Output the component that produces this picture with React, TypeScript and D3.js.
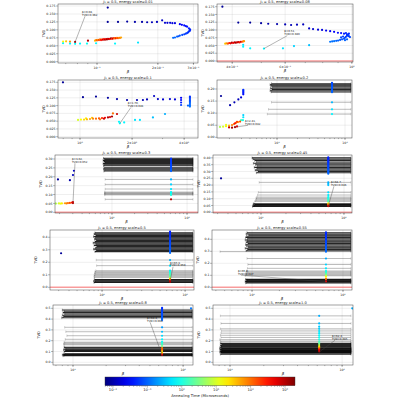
import React from "react";
import * as d3 from "d3";

type Pt = [number, number, number]; // beta, TVD, log10(annealing time in microseconds)
type Bar = [number, number, number]; // TVD, beta low, beta high
type Ann = [number, number, number, number]; // point beta, point TVD, text beta, text TVD

const ENERGY_SCALES = ["0.01", "0.08", "0.1", "0.2", "0.3", "0.45", "0.5", "0.55", "0.8", "1.0"];
const LOG_T_DOMAIN: [number, number] = [-2.23, 3.29];
const CBAR_TICKS = [-2, -1, 0, 1, 2, 3];
const CBAR_LABELS = ["10⁻²", "10⁻¹", "10⁰", "10¹", "10²", "10³"];

const Y_TICKS_A = [0, 0.025, 0.05, 0.075, 0.1, 0.125, 0.15, 0.175];
const Y_TICKS_B = [0, 0.05, 0.1, 0.15, 0.2];
const Y_TICKS_C = [0, 0.05, 0.1, 0.15, 0.2, 0.25, 0.3];
const Y_TICKS_D = [0, 0.05, 0.1, 0.15, 0.2, 0.25, 0.3, 0.35, 0.4];
const Y_TICKS_E = [0, 0.1, 0.2, 0.3, 0.4];
const Y_TICKS_F = [0, 0.1, 0.2, 0.3, 0.4, 0.5];

const X_TICKS_1 = [0.1, 0.2, 0.3];
const X_LABELS_1 = ["10⁻¹", "2×10⁻¹", "3×10⁻¹"];
const X_TICKS_2 = [0.4, 0.6, 1];
const X_LABELS_2 = ["4×10⁻¹", "6×10⁻¹", "10⁰"];
const X_TICKS_3 = [1, 2, 4];
const X_LABELS_3 = ["10⁰", "2×10⁰", "4×10⁰"];
const X_TICKS_D = [10, 100];
const X_LABELS_D = ["10¹", "10²"];

const X_DOMAINS: [number, number][] = [
  [0.0641, 0.316], [0.356, 1.009], [0.746, 4.81], [1.31, 126.7], [1.74, 140],
  [2.64, 125], [2.36, 128], [3.63, 125.6], [6.58, 123], [7.05, 125],
];
const Y_DOMAINS: [number, number][] = [
  [-0.0041, 0.1813], [-0.0032, 0.1837], [-0.0042, 0.1824], [-0.0029, 0.2373], [-0.0039, 0.3225],
  [-0.005, 0.421], [-0.0216, 0.458], [-0.0225, 0.4775], [-0.025, 0.5306], [-0.025, 0.5306],
];

// ---------- Panel 1 (energy scale 0.01)
const P1_POINTS: Pt[] = [
  [0.113, 0.170, -2.1],
  [0.113, 0.125, -2.1], [0.127, 0.125, -2.1], [0.141, 0.126, -2.05], [0.154, 0.125, -2.0], [0.167, 0.125, -2.0],
  [0.177, 0.124, -1.95], [0.187, 0.124, -1.9], [0.198, 0.125, -1.9], [0.210, 0.130, -1.85],
  [0.217, 0.122, -1.8], [0.223, 0.122, -1.78], [0.230, 0.122, -1.75], [0.236, 0.121, -1.72], [0.243, 0.121, -1.7],
  [0.257, 0.118, -1.6], [0.263, 0.116, -1.55], [0.270, 0.114, -1.5], [0.275, 0.112, -1.48], [0.279, 0.110, -1.45],
  [0.285, 0.105, -1.4], [0.288, 0.102, -1.38], [0.289, 0.100, -1.35], [0.288, 0.097, -1.33], [0.285, 0.095, -1.3],
  [0.282, 0.092, -1.28], [0.279, 0.090, -1.25], [0.275, 0.088, -1.22], [0.270, 0.086, -1.2], [0.264, 0.084, -1.15],
  [0.257, 0.082, -1.1], [0.253, 0.080, -1.08], [0.249, 0.079, -1.05], [0.243, 0.076, -1.0], [0.238, 0.075, -0.95],
  [0.0977, 0.066, 1.6], [0.0990, 0.068, 1.9], [0.1000, 0.067, 2.1], [0.1012, 0.069, 1.8], [0.1023, 0.068, 2.3],
  [0.1035, 0.070, 2.0], [0.1047, 0.068, 2.6], [0.1060, 0.070, 2.4], [0.1071, 0.069, 2.9], [0.1083, 0.071, 2.5],
  [0.1095, 0.069, 3.0], [0.1108, 0.071, 2.7], [0.1120, 0.070, 3.1], [0.1133, 0.072, 2.8], [0.1146, 0.071, 3.0],
  [0.1160, 0.072, 2.6], [0.1173, 0.073, 3.1], [0.1187, 0.072, 2.4], [0.1200, 0.073, 2.9], [0.1214, 0.074, 2.2],
  [0.1228, 0.073, 2.0], [0.1242, 0.074, 2.5], [0.1256, 0.075, 1.9], [0.1270, 0.074, 2.2], [0.1285, 0.075, 1.8],
  [0.1300, 0.075, 2.0], [0.1315, 0.076, 1.7],
  [0.0679, 0.063, 1.2], [0.0703, 0.064, 1.5], [0.0735, 0.063, 1.8],
  [0.0779, 0.062, 3.1], [0.0902, 0.066, 3.0],
  [0.0679, 0.058, -0.2], [0.0735, 0.057, -0.2], [0.0779, 0.056, -0.15], [0.0824, 0.057, -0.2],
  [0.0892, 0.057, -0.1], [0.0989, 0.058, -0.2], [0.1228, 0.057, -0.2], [0.1596, 0.060, -0.3],
];
const P1_ANN: Ann = [0.0779, 0.062, 0.0843, 0.153];

// ---------- Panel 2 (0.08)
const P2_POINTS: Pt[] = [
  [0.371, 0.175, -2.1],
  [0.419, 0.124, -2.1], [0.459, 0.124, -2.1], [0.499, 0.122, -2.05], [0.527, 0.120, -2.0], [0.564, 0.119, -2.0],
  [0.600, 0.118, -1.95], [0.628, 0.116, -1.95], [0.657, 0.117, -1.9], [0.689, 0.118, -1.9],
  [0.721, 0.105, -1.85], [0.743, 0.103, -1.8], [0.772, 0.101, -1.75], [0.796, 0.100, -1.7], [0.821, 0.098, -1.65],
  [0.847, 0.096, -1.6], [0.873, 0.094, -1.55], [0.899, 0.091, -1.5], [0.921, 0.090, -1.45], [0.942, 0.088, -1.4],
  [0.847, 0.062, -0.9], [0.860, 0.063, -0.95], [0.873, 0.064, -0.9], [0.887, 0.065, -1.0], [0.900, 0.066, -1.0],
  [0.914, 0.068, -1.05], [0.928, 0.070, -1.1], [0.942, 0.072, -1.1], [0.949, 0.075, -1.15], [0.956, 0.078, -1.2],
  [0.964, 0.081, -1.2], [0.971, 0.084, -1.25], [0.978, 0.080, -1.2], [0.986, 0.077, -1.15], [0.964, 0.070, -1.05],
  [0.949, 0.067, -1.0], [0.935, 0.079, -1.2], [0.921, 0.076, -1.15], [0.978, 0.088, -1.3], [0.964, 0.086, -1.3],
  [0.956, 0.090, -1.35],
  [0.379, 0.056, 1.5], [0.383, 0.057, 1.8], [0.387, 0.056, 2.1], [0.391, 0.058, 2.4], [0.395, 0.057, 2.7],
  [0.399, 0.059, 3.0], [0.403, 0.058, 2.6], [0.407, 0.060, 2.9], [0.411, 0.059, 3.1], [0.415, 0.060, 2.8],
  [0.419, 0.061, 3.0], [0.423, 0.060, 2.5], [0.427, 0.062, 2.9], [0.431, 0.062, 2.3], [0.435, 0.063, 2.0],
  [0.438, 0.064, 1.8],
  [0.435, 0.046, -0.2], [0.435, 0.052, -0.3], [0.459, 0.041, -0.2], [0.510, 0.040, -0.2], [0.590, 0.041, -0.3],
  [0.642, 0.048, -0.4], [0.721, 0.051, -0.5],
];
const P2_ANN: Ann = [0.510, 0.040, 0.596, 0.092];

// ---------- Panel 3 (0.1)
const P3_POINTS: Pt[] = [
  [0.797, 0.175, -2.1],
  [1.04, 0.127, -2.1], [1.237, 0.129, -2.1], [1.45, 0.125, -2.05], [1.636, 0.121, -2.0], [1.87, 0.118, -2.0],
  [2.135, 0.118, -1.95], [2.31, 0.118, -1.95], [2.44, 0.120, -1.9], [2.68, 0.131, -1.85], [2.82, 0.121, -1.85],
  [3.02, 0.120, -1.8], [3.31, 0.121, -1.8], [3.54, 0.120, -1.75],
  [3.84, 0.125, -1.6], [3.84, 0.118, -1.5], [3.84, 0.110, -1.4], [3.84, 0.102, -1.2],
  [4.32, 0.129, -1.3], [4.32, 0.125, -1.25], [4.32, 0.121, -1.2], [4.32, 0.117, -1.15], [4.32, 0.113, -1.1],
  [4.32, 0.109, -1.0], [4.32, 0.105, -1.0], [4.32, 0.101, -0.95], [4.32, 0.097, -0.9], [4.21, 0.100, -1.0],
  [0.974, 0.054, 1.0], [1.013, 0.055, 1.2], [1.055, 0.055, 1.4], [1.083, 0.059, 1.3], [1.097, 0.056, 1.6],
  [1.142, 0.057, 1.7], [1.173, 0.061, 1.5], [1.189, 0.058, 1.9], [1.237, 0.058, 2.0], [1.288, 0.059, 2.2],
  [1.305, 0.056, 2.0], [1.340, 0.060, 2.4], [1.376, 0.058, 2.9], [1.395, 0.061, 2.7], [1.451, 0.062, 3.0],
  [1.491, 0.063, 2.8], [1.531, 0.065, 3.1], [1.55, 0.075, 2.0], [1.636, 0.073, 2.9],
  [1.68, 0.048, -0.2], [1.70, 0.043, -0.15], [1.80, 0.046, -0.2], [2.08, 0.054, -0.3], [2.22, 0.054, -0.3],
  [2.64, 0.062, -0.5], [3.10, 0.073, -0.6],
];
const P3_ANN: Ann = [1.70, 0.043, 1.89, 0.104];

// ---------- Panel 4 (0.2)
const P4_POINTS: Pt[] = [
  [1.50, 0.171, -2.1], [2.04, 0.133, -2.0], [2.36, 0.145, -1.95], [2.70, 0.157, -1.9], [2.96, 0.165, -1.8],
  [3.19, 0.178, -1.5], [3.19, 0.183, -1.45], [3.19, 0.188, -1.4], [3.19, 0.193, -1.35], [3.19, 0.197, -1.3],
  [3.19, 0.092, -0.4], [3.19, 0.083, -0.3], [3.15, 0.071, -0.1], [2.96, 0.071, 0.2],
  [1.45, 0.043, 0.8], [1.61, 0.044, 1.0], [1.78, 0.046, 1.3], [1.97, 0.048, 1.6], [2.18, 0.051, 1.9],
  [2.33, 0.055, 2.1], [2.49, 0.060, 2.0], [2.67, 0.063, 1.8], [2.86, 0.065, 2.2], [1.97, 0.041, 2.9],
  [2.18, 0.040, 3.1], [2.41, 0.042, 3.0], [2.58, 0.045, 2.7], [1.78, 0.052, 1.1], [2.58, 0.064, 2.3],
  [2.41, 0.058, 2.5],
  [64.4, 0.187, -1.0], [64.4, 0.190, -1.0], [64.4, 0.193, -1.05], [64.4, 0.196, -1.0], [64.4, 0.199, -1.1],
  [64.4, 0.202, -1.05], [64.4, 0.205, -1.1], [64.4, 0.208, -1.0], [64.4, 0.211, -1.1], [64.4, 0.214, -1.05],
  [64.4, 0.217, -1.1], [64.4, 0.220, -1.15], [64.4, 0.223, -1.1], [64.4, 0.226, -1.15],
  [64.4, 0.145, -0.55], [64.4, 0.116, -0.3], [64.4, 0.096, -0.2],
];
const P4_DARK: Bar[] = [
  [0.188, 8.2, 122], [0.193, 7.9, 122], [0.198, 8.4, 122], [0.203, 8.0, 122], [0.208, 8.6, 122],
  [0.213, 8.1, 122], [0.218, 7.9, 122], [0.222, 8.3, 122],
];
const P4_LIGHT: Bar[] = [[0.145, 8.3, 122], [0.116, 7.5, 122], [0.096, 7.2, 122]];
const P4_ANN: Ann = [2.41, 0.042, 3.38, 0.063];

// ---------- Panel 5 (0.3)
const P5_POINTS: Pt[] = [
  [1.905, 0.185, -2.1], [2.75, 0.181, -2.0], [3.02, 0.210, -1.9], [3.11, 0.234, -1.85],
  [1.63, 0.050, 0.7], [1.72, 0.051, 0.6], [1.79, 0.049, 0.8], [1.96, 0.050, 1.0], [2.05, 0.049, 1.1],
  [2.15, 0.050, 1.3], [2.36, 0.051, 1.7], [2.47, 0.050, 1.9], [2.59, 0.052, 2.0], [2.75, 0.053, 2.2],
  [2.93, 0.055, 2.5], [3.02, 0.052, 3.0], [3.02, 0.058, 2.8],
  [61.2, 0.232, -1.0], [61.2, 0.237, -1.05], [61.2, 0.242, -1.0], [61.2, 0.247, -1.1], [61.2, 0.252, -1.1],
  [61.2, 0.257, -1.15], [61.2, 0.262, -1.1], [61.2, 0.267, -1.2], [61.2, 0.272, -1.15], [61.2, 0.277, -1.2],
  [61.2, 0.282, -1.2], [61.2, 0.287, -1.25], [61.2, 0.292, -1.2], [61.2, 0.297, -1.3], [61.2, 0.302, -1.25],
  [61.2, 0.185, -0.6], [61.2, 0.157, -0.4], [61.2, 0.131, -0.3], [61.2, 0.114, -0.2], [61.2, 0.110, -0.15],
  [61.2, 0.106, -0.1], [61.2, 0.102, -0.05], [61.2, 0.098, 0.0], [61.2, 0.073, 3.0],
];
const P5_DARK: Bar[] = [
  [0.262, 7.7, 120], [0.268, 7.9, 120], [0.274, 7.6, 120], [0.280, 8.0, 120], [0.286, 7.8, 120],
  [0.292, 7.6, 120], [0.298, 7.9, 120], [0.304, 7.7, 120], [0.232, 7.8, 120], [0.238, 8.0, 120],
  [0.244, 7.7, 120], [0.250, 7.9, 120],
];
const P5_LIGHT: Bar[] = [
  [0.185, 8.1, 120], [0.157, 8.1, 120], [0.131, 8.1, 120], [0.114, 8.0, 120], [0.110, 8.0, 120],
  [0.106, 8.0, 120], [0.102, 8.0, 120], [0.098, 8.0, 120], [0.073, 8.1, 120],
];
const P5_ANN: Ann = [3.02, 0.052, 2.93, 0.294];

// ---------- Panel 6 (0.45)
const P6_POINTS: Pt[] = [
  [3.30, 0.250, -2.1],
  [64.7, 0.284, -0.95], [64.7, 0.290, -1.0], [64.7, 0.296, -1.05], [64.7, 0.302, -1.0], [64.7, 0.308, -1.1],
  [64.7, 0.314, -1.05], [64.7, 0.320, -1.1], [64.7, 0.326, -1.15], [64.7, 0.332, -1.1], [64.7, 0.338, -1.2],
  [64.7, 0.344, -1.15], [64.7, 0.350, -1.2], [64.7, 0.356, -1.25], [64.7, 0.362, -1.2], [64.7, 0.368, -1.3],
  [64.7, 0.374, -1.25], [64.7, 0.380, -1.3], [64.7, 0.386, -1.35], [64.7, 0.392, -1.3], [64.7, 0.398, -1.4],
  [64.7, 0.404, -1.35],
  [64.7, 0.220, -0.6], [64.7, 0.210, -0.55], [64.7, 0.200, -0.5], [64.7, 0.147, -0.35], [64.7, 0.127, -0.25],
  [64.7, 0.112, -0.15], [64.7, 0.104, -0.05], [64.7, 0.096, 0.05], [64.7, 0.088, 0.15], [64.7, 0.080, 0.3],
  [64.7, 0.065, 1.2], [64.7, 0.058, 1.8], [64.7, 0.052, 2.3], [64.7, 0.046, 2.9],
];
const P6_DARK: Bar[] = [
  [0.290, 8.8, 121], [0.300, 9.2, 121], [0.310, 8.5, 121], [0.320, 8.9, 121], [0.330, 8.3, 121],
  [0.340, 9.0, 121], [0.350, 8.6, 121], [0.360, 8.1, 121], [0.370, 8.8, 121], [0.380, 8.4, 121],
  [0.390, 8.0, 121], [0.400, 7.8, 121],
  [0.043, 7.9, 121], [0.048, 8.2, 121], [0.053, 8.0, 121], [0.058, 8.4, 121], [0.063, 8.1, 121],
];
const P6_LIGHT: Bar[] = [
  [0.220, 9.5, 121], [0.147, 9.3, 121], [0.127, 9.1, 121], [0.112, 8.9, 121], [0.104, 8.7, 121],
  [0.096, 8.8, 121], [0.088, 8.6, 121], [0.080, 8.4, 121],
];
const P6_ANN: Ann = [64.7, 0.046, 69.7, 0.215];

// ---------- Panel 7 (0.5)
const P7_POINTS: Pt[] = [
  [3.21, 0.272, -2.1],
  [65.9, 0.275, -0.95], [65.9, 0.284, -1.0], [65.9, 0.293, -1.05], [65.9, 0.302, -1.0], [65.9, 0.311, -1.1],
  [65.9, 0.320, -1.05], [65.9, 0.329, -1.1], [65.9, 0.338, -1.15], [65.9, 0.347, -1.1], [65.9, 0.356, -1.2],
  [65.9, 0.365, -1.15], [65.9, 0.374, -1.2], [65.9, 0.383, -1.25], [65.9, 0.392, -1.2], [65.9, 0.401, -1.3],
  [65.9, 0.410, -1.25], [65.9, 0.419, -1.3], [65.9, 0.428, -1.35], [65.9, 0.437, -1.3], [65.9, 0.445, -1.4],
  [65.9, 0.218, -0.6], [65.9, 0.173, -0.35], [65.9, 0.133, -0.25], [65.9, 0.125, -0.1], [65.9, 0.118, 0.0],
  [65.9, 0.110, 0.1], [65.9, 0.102, 0.2], [65.9, 0.094, 0.3], [65.9, 0.086, 0.4], [65.9, 0.078, 0.6],
  [65.9, 0.070, 1.2], [65.9, 0.062, 2.0], [65.9, 0.050, 2.8], [65.9, 0.044, 3.0],
];
const P7_DARK: Bar[] = [
  [0.285, 8.2, 124], [0.295, 8.5, 124], [0.305, 7.9, 124], [0.315, 8.3, 124], [0.325, 8.6, 124],
  [0.335, 8.0, 124], [0.345, 8.4, 124], [0.355, 7.8, 124], [0.365, 8.2, 124], [0.375, 8.5, 124],
  [0.385, 8.1, 124], [0.395, 8.3, 124], [0.405, 7.9, 124], [0.415, 8.4, 124], [0.425, 8.0, 124],
  [0.435, 8.2, 124],
  [0.038, 8.0, 124], [0.044, 8.2, 124], [0.050, 7.9, 124], [0.056, 8.3, 124], [0.062, 8.1, 124],
];
const P7_LIGHT: Bar[] = [
  [0.218, 8.5, 124], [0.173, 8.6, 124], [0.133, 8.4, 124], [0.125, 8.2, 124], [0.118, 8.3, 124],
  [0.110, 8.1, 124], [0.102, 8.2, 124], [0.094, 8.0, 124], [0.086, 8.1, 124], [0.078, 8.0, 124],
];
const P7_ANN: Ann = [65.9, 0.050, 65.9, 0.19];

// ---------- Panel 8 (0.55)
const P8_POINTS: Pt[] = [
  [65.0, 0.297, -0.95], [65.0, 0.306, -1.0], [65.0, 0.315, -1.05], [65.0, 0.324, -1.0], [65.0, 0.333, -1.1],
  [65.0, 0.342, -1.05], [65.0, 0.351, -1.1], [65.0, 0.360, -1.15], [65.0, 0.369, -1.1], [65.0, 0.378, -1.2],
  [65.0, 0.387, -1.15], [65.0, 0.396, -1.2], [65.0, 0.405, -1.25], [65.0, 0.414, -1.2], [65.0, 0.423, -1.3],
  [65.0, 0.432, -1.25], [65.0, 0.441, -1.3], [65.0, 0.450, -1.35], [65.0, 0.458, -1.3],
  [65.0, 0.240, -0.6], [65.0, 0.190, -0.4], [65.0, 0.158, -0.25], [65.0, 0.136, -0.1], [65.0, 0.128, 0.0],
  [65.0, 0.120, 0.1], [65.0, 0.112, 0.3], [65.0, 0.104, 0.5], [65.0, 0.096, 0.8], [65.0, 0.088, 1.2],
  [65.0, 0.070, 2.0], [65.0, 0.050, 2.7],
];
const P8_DARK: Bar[] = [
  [0.305, 8.6, 122], [0.315, 8.9, 122], [0.325, 8.4, 122], [0.335, 9.1, 122], [0.345, 8.7, 122],
  [0.355, 8.5, 122], [0.365, 9.0, 122], [0.375, 8.6, 122], [0.385, 8.8, 122], [0.395, 8.4, 122],
  [0.405, 8.9, 122], [0.415, 8.5, 122], [0.425, 8.7, 122], [0.435, 9.2, 122], [0.445, 8.6, 122],
  [0.455, 8.8, 122],
  [0.036, 8.5, 122], [0.042, 8.7, 122], [0.048, 8.4, 122], [0.054, 8.6, 122], [0.060, 8.8, 122],
  [0.066, 8.5, 122],
];
const P8_LIGHT: Bar[] = [
  [0.297, 4.45, 122], [0.240, 8.8, 122], [0.190, 9.0, 122], [0.158, 8.9, 122], [0.136, 8.7, 122],
  [0.128, 8.6, 122], [0.120, 8.8, 122], [0.112, 8.5, 122], [0.104, 8.6, 122], [0.096, 8.4, 122],
];
const P8_ANN: Ann = [65.0, 0.047, 7.0, 0.128];

// ---------- Panel 9 (0.8)
const P9_POINTS: Pt[] = [
  [118, 0.500, -0.9],
  [64.4, 0.392, -0.95], [64.4, 0.400, -1.0], [64.4, 0.408, -1.05], [64.4, 0.416, -1.0], [64.4, 0.424, -1.1],
  [64.4, 0.432, -1.05], [64.4, 0.440, -1.1], [64.4, 0.448, -1.15], [64.4, 0.456, -1.1], [64.4, 0.464, -1.2],
  [64.4, 0.472, -1.15], [64.4, 0.480, -1.2], [64.4, 0.488, -1.25], [64.4, 0.496, -1.2], [64.4, 0.504, -1.3],
  [64.4, 0.324, -0.7], [64.4, 0.283, -0.5], [64.4, 0.246, -0.35], [64.4, 0.213, -0.2], [64.4, 0.190, -0.1],
  [64.4, 0.178, 0.0], [64.4, 0.166, 0.2], [64.4, 0.150, 0.5], [64.4, 0.132, 1.9], [64.4, 0.120, 2.2],
  [64.4, 0.108, 1.8], [64.4, 0.092, 1.2], [64.4, 0.080, 2.0], [64.4, 0.070, 2.8],
];
const P9_DARK: Bar[] = [
  [0.412, 7.9, 121], [0.424, 8.2, 121], [0.436, 8.0, 121], [0.448, 8.4, 121], [0.460, 8.1, 121],
  [0.472, 8.3, 121], [0.484, 8.0, 121],
  [0.100, 8.3, 121], [0.108, 8.5, 121], [0.116, 8.2, 121], [0.124, 8.6, 121], [0.132, 8.4, 121],
  [0.140, 8.3, 121],
  [0.060, 8.1, 121], [0.065, 8.3, 121], [0.070, 8.0, 121], [0.075, 8.2, 121], [0.080, 8.4, 121],
];
const P9_LIGHT: Bar[] = [
  [0.324, 8.4, 121], [0.283, 8.6, 121], [0.246, 8.8, 121], [0.213, 8.5, 121], [0.186, 8.3, 121],
  [0.178, 8.4, 121], [0.170, 8.2, 121], [0.162, 8.3, 121],
];
const P9_ANN: Ann = [64.4, 0.068, 47.1, 0.40];

// ---------- Panel 10 (1.0)
const P10_POINTS: Pt[] = [
  [123, 0.500, -0.6],
  [62.4, 0.430, -0.6], [62.4, 0.360, -0.5], [62.4, 0.330, -0.45], [62.4, 0.310, -0.4], [62.4, 0.290, -0.3],
  [62.4, 0.270, -0.25], [62.4, 0.250, -0.2], [62.4, 0.230, -0.1], [62.4, 0.210, 0.0], [62.4, 0.190, 0.2],
  [62.4, 0.175, 0.4], [62.4, 0.160, 0.8], [62.4, 0.145, 1.2], [62.4, 0.135, 1.8], [62.4, 0.125, 2.2],
  [62.4, 0.115, 2.6], [62.4, 0.100, 3.0],
];
const P10_DARK: Bar[] = [
  [0.075, 8.2, 120], [0.085, 8.4, 120], [0.095, 8.1, 120], [0.105, 8.3, 120], [0.115, 8.2, 120],
  [0.125, 8.5, 120], [0.135, 8.1, 120], [0.145, 8.3, 120], [0.155, 8.2, 120], [0.165, 8.4, 120],
  [0.175, 8.2, 120], [0.090, 8.3, 120], [0.100, 8.2, 120], [0.110, 8.4, 120], [0.120, 8.1, 120],
  [0.130, 8.3, 120],
];
const P10_LIGHT: Bar[] = [
  [0.430, 8.2, 120], [0.360, 8.3, 120], [0.310, 8.2, 120], [0.290, 8.4, 120], [0.270, 8.3, 120],
  [0.250, 8.2, 120], [0.230, 8.3, 120], [0.210, 8.1, 120], [0.195, 8.2, 120], [0.185, 8.3, 120],
];
const P10_ANN: Ann = [62.4, 0.095, 81.3, 0.234];

const ANN_LABELS = [
  ["β=0.08,", "TVD=0.062"], ["β=0.51,", "TVD=0.040"], ["β=1.70,", "TVD=0.043"], ["β=2.41,", "TVD=0.042"],
  ["β=3.02,", "TVD=0.052"], ["β=64.7,", "TVD=0.046"], ["β=65.9,", "TVD=0.050"], ["β=65.0,", "TVD=0.047"],
  ["β=64.4,", "TVD=0.068"], ["β=62.4,", "TVD=0.095"],
];

// ---------- layout (pixel boxes of each axes)
const BOXES = [
  { x0: 58, x1: 198, y0: 4, y1: 63 }, { x0: 217, x1: 353, y0: 4, y1: 62 },
  { x0: 58, x1: 198, y0: 80, y1: 138 }, { x0: 217, x1: 352, y0: 80, y1: 138 },
  { x0: 55, x1: 198, y0: 155, y1: 213 }, { x0: 213, x1: 352, y0: 155, y1: 213 },
  { x0: 50, x1: 194, y0: 230, y1: 290 }, { x0: 212, x1: 352, y0: 230, y1: 290 },
  { x0: 53, x1: 193, y0: 305, y1: 365 }, { x0: 213, x1: 353, y0: 305, y1: 365 },
];

const PANELS = [
  { pts: P1_POINTS, dark: [] as Bar[], light: [] as Bar[], ann: P1_ANN, xt: X_TICKS_1, xl: X_LABELS_1, yt: Y_TICKS_A, yf: ".3f", red: false },
  { pts: P2_POINTS, dark: [] as Bar[], light: [] as Bar[], ann: P2_ANN, xt: X_TICKS_2, xl: X_LABELS_2, yt: Y_TICKS_A, yf: ".3f", red: true },
  { pts: P3_POINTS, dark: [] as Bar[], light: [] as Bar[], ann: P3_ANN, xt: X_TICKS_3, xl: X_LABELS_3, yt: Y_TICKS_A, yf: ".3f", red: false },
  { pts: P4_POINTS, dark: P4_DARK, light: P4_LIGHT, ann: P4_ANN, xt: X_TICKS_D, xl: X_LABELS_D, yt: Y_TICKS_B, yf: ".2f", red: false },
  { pts: P5_POINTS, dark: P5_DARK, light: P5_LIGHT, ann: P5_ANN, xt: X_TICKS_D, xl: X_LABELS_D, yt: Y_TICKS_C, yf: ".2f", red: true },
  { pts: P6_POINTS, dark: P6_DARK, light: P6_LIGHT, ann: P6_ANN, xt: X_TICKS_D, xl: X_LABELS_D, yt: Y_TICKS_D, yf: ".2f", red: true },
  { pts: P7_POINTS, dark: P7_DARK, light: P7_LIGHT, ann: P7_ANN, xt: X_TICKS_D, xl: X_LABELS_D, yt: Y_TICKS_E, yf: ".1f", red: true },
  { pts: P8_POINTS, dark: P8_DARK, light: P8_LIGHT, ann: P8_ANN, xt: X_TICKS_D, xl: X_LABELS_D, yt: Y_TICKS_E, yf: ".1f", red: true },
  { pts: P9_POINTS, dark: P9_DARK, light: P9_LIGHT, ann: P9_ANN, xt: X_TICKS_D, xl: X_LABELS_D, yt: Y_TICKS_F, yf: ".1f", red: false },
  { pts: P10_POINTS, dark: P10_DARK, light: P10_LIGHT, ann: P10_ANN, xt: X_TICKS_D, xl: X_LABELS_D, yt: Y_TICKS_F, yf: ".1f", red: false },
];

function jet(t: number): string {
  const c = (v: number) => Math.max(0, Math.min(1, v));
  const r = c(Math.min(4 * t - 1.5, -4 * t + 4.5));
  const g = c(Math.min(4 * t - 0.5, -4 * t + 3.5));
  const b = c(Math.min(4 * t + 0.5, -4 * t + 2.5));
  return d3.rgb(r * 255, g * 255, b * 255).formatHex();
}
const colorScale = d3.scaleSequential(jet).domain(LOG_T_DOMAIN);

const FONT = "DejaVu Sans, sans-serif";

function minorLogTicks(d: [number, number]): number[] {
  const out: number[] = [];
  const lo = Math.floor(Math.log10(d[0]));
  const hi = Math.ceil(Math.log10(d[1]));
  for (let k = lo; k <= hi; k++) {
    for (let m = 1; m < 10; m++) {
      const v = m * Math.pow(10, k);
      if (v >= d[0] && v <= d[1]) out.push(v);
    }
  }
  return out;
}

function Panel({ i }: { i: number }) {
  const p = PANELS[i];
  const b = BOXES[i];
  const xd = X_DOMAINS[i];
  const x = d3.scaleLog().domain(xd).range([b.x0, b.x1]);
  const y = d3.scaleLinear().domain(Y_DOMAINS[i]).range([b.y1, b.y0]);
  const fmt = d3.format(p.yf);
  const minors = minorLogTicks(xd);
  const [pb, pt, tb, tt] = p.ann;
  const cx = (b.x0 + b.x1) / 2;
  const cy = (b.y0 + b.y1) / 2;
  const bar = (d: Bar, k: number, op: number, w: number) => (
    <g key={k} stroke="#000" strokeOpacity={op} strokeWidth={w}>
      <line x1={x(d[1])} x2={x(d[2])} y1={y(d[0])} y2={y(d[0])} />
      <line x1={x(d[1])} x2={x(d[1])} y1={y(d[0]) - 1.3} y2={y(d[0]) + 1.3} strokeWidth={0.4} />
      <line x1={x(d[2])} x2={x(d[2])} y1={y(d[0]) - 1.3} y2={y(d[0]) + 1.3} strokeWidth={0.4} />
    </g>
  );
  return (
    <g>
      <defs>
        <clipPath id={`clip${i}`}>
          <rect x={b.x0} y={b.y0} width={b.x1 - b.x0} height={b.y1 - b.y0} />
        </clipPath>
      </defs>
      <g stroke="#b0b0b0" strokeOpacity={0.5} strokeWidth={0.4}>
        {p.xt.map((v, k) => (
          <line key={"gx" + k} x1={x(v)} x2={x(v)} y1={b.y0} y2={b.y1} />
        ))}
        {p.yt.map((v, k) => (
          <line key={"gy" + k} x1={b.x0} x2={b.x1} y1={y(v)} y2={y(v)} />
        ))}
      </g>
      <g clipPath={`url(#clip${i})`}>
        {p.red && (
          <line x1={b.x0} x2={b.x1} y1={y(0)} y2={y(0)} stroke="#ff3030" strokeOpacity={0.45} strokeWidth={1.6} />
        )}
        {p.light.map((d, k) => bar(d, k, 0.38, 0.7))}
        {p.dark.map((d, k) => bar(d, k + 1000, 0.85, 1.05))}
        {p.pts.map((d, k) => (
          <circle key={"p" + k} cx={x(d[0])} cy={y(d[1])} r={1.1} fill={colorScale(d[2])} />
        ))}
        <line x1={x(tb) + 3} y1={y(tt) + 3.2} x2={x(pb)} y2={y(pt)} stroke="#444" strokeWidth={0.4} />
        <text x={x(tb)} y={y(tt)} fontSize={2.7} fontFamily={FONT} fill="#111">
          <tspan x={x(tb)} dy={0}>{ANN_LABELS[i][0]}</tspan>
          <tspan x={x(tb)} dy={2.9}>{ANN_LABELS[i][1]}</tspan>
        </text>
      </g>
      <rect x={b.x0} y={b.y0} width={b.x1 - b.x0} height={b.y1 - b.y0} fill="none" stroke="#444" strokeWidth={0.5} />
      <g stroke="#333" strokeWidth={0.35}>
        {minors.map((v, k) => (
          <line key={"mx" + k} x1={x(v)} x2={x(v)} y1={b.y1} y2={b.y1 + 1.1} />
        ))}
        {p.xt.map((v, k) => (
          <line key={"tx" + k} x1={x(v)} x2={x(v)} y1={b.y1} y2={b.y1 + 2} />
        ))}
        {p.yt.map((v, k) => (
          <line key={"ty" + k} x1={b.x0 - 2} x2={b.x0} y1={y(v)} y2={y(v)} />
        ))}
      </g>
      <g fontFamily={FONT} fontSize={3.2} fill="#222">
        {p.xt.map((v, k) => (
          <text key={"lx" + k} x={x(v)} y={b.y1 + 5.6} textAnchor="middle">{p.xl[k]}</text>
        ))}
        {p.yt.map((v, k) => (
          <text key={"ly" + k} x={b.x0 - 2.5} y={y(v) + 1.1} textAnchor="end">{fmt(v)}</text>
        ))}
      </g>
      <text x={cx} y={b.y1 + 10} textAnchor="middle" fontFamily={FONT} fontSize={3.8} fontStyle="italic" fill="#222">β</text>
      <text transform={`translate(${b.x0 - 13},${cy}) rotate(-90)`} textAnchor="middle" fontFamily={FONT} fontSize={3.6} fill="#222">TVD</text>
      <text x={cx} y={b.y0 - 1.2} textAnchor="middle" fontFamily={FONT} fontSize={3.6} fill="#222">
        <tspan fontStyle="italic">J</tspan>
        <tspan>{`₂ = 0.5, energy scale=${ENERGY_SCALES[i]}`}</tspan>
      </text>
    </g>
  );
}

function ColorBar() {
  const x0 = 105, x1 = 295, y0 = 377, y1 = 385.7;
  const cx = d3.scaleLinear().domain(LOG_T_DOMAIN).range([x0, x1]);
  const stops = d3.range(0, 1.0001, 0.05);
  const minors: number[] = [];
  for (let k = -3; k <= 3; k++) {
    for (let m = 2; m < 10; m++) {
      const v = k + Math.log10(m);
      if (v >= LOG_T_DOMAIN[0] && v <= LOG_T_DOMAIN[1]) minors.push(v);
    }
  }
  return (
    <g>
      <defs>
        <linearGradient id="jetgrad" x1="0" x2="1" y1="0" y2="0">
          {stops.map((s, k) => (
            <stop key={k} offset={s} stopColor={jet(s)} />
          ))}
        </linearGradient>
      </defs>
      <rect x={x0} y={y0} width={x1 - x0} height={y1 - y0} fill="url(#jetgrad)" stroke="#333" strokeWidth={0.4} />
      <g stroke="#333" strokeWidth={0.35}>
        {minors.map((v, k) => (
          <line key={"m" + k} x1={cx(v)} x2={cx(v)} y1={y1} y2={y1 + 1.1} />
        ))}
        {CBAR_TICKS.map((v, k) => (
          <line key={"t" + k} x1={cx(v)} x2={cx(v)} y1={y1} y2={y1 + 2} />
        ))}
      </g>
      <g fontFamily={FONT} fontSize={3.7} fill="#222">
        {CBAR_TICKS.map((v, k) => (
          <text key={"l" + k} x={cx(v)} y={y1 + 5.6} textAnchor="middle">{CBAR_LABELS[k]}</text>
        ))}
      </g>
      <text x={(x0 + x1) / 2} y={397} textAnchor="middle" fontFamily={FONT} fontSize={3.7} fill="#222">
        Annealing Time (Microseconds)
      </text>
    </g>
  );
}

export default function App() {
  return (
    <svg
      width={400}
      height={400}
      viewBox="0 0 400 400"
      style={{ position: "absolute", left: 0, top: 0, background: "#fff" }}
    >
      <rect x={0} y={0} width={400} height={400} fill="#fff" />
      {PANELS.map((_, i) => (
        <Panel key={i} i={i} />
      ))}
      <ColorBar />
    </svg>
  );
}
